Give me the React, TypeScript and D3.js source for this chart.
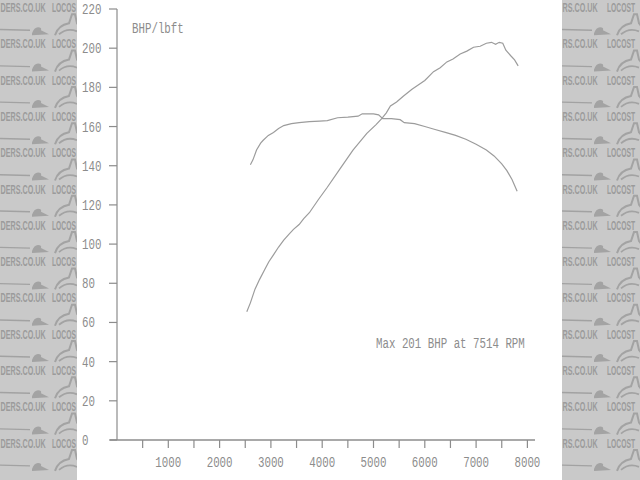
import React from "react";
import * as d3 from "d3";

const torqueRpm = [2600, 2650, 2720, 2800, 2850, 2950, 3050, 3150, 3250, 3400, 3550, 3750, 3950, 4100, 4300, 4500, 4700, 4780, 5000, 5100, 5180, 5350, 5520, 5600, 5800, 6000, 6200, 6400, 6600, 6800, 7000, 7200, 7350, 7500, 7600, 7700, 7800];
const torqueVal = [140.5, 143, 148, 151.5, 153, 155.5, 157, 159, 160.5, 161.5, 162, 162.5, 162.8, 163, 164.5, 164.8, 165.3, 166.5, 166.5, 166, 164, 164, 163.5, 162, 161.5, 160, 158.5, 157, 155.5, 153.5, 151, 148, 145, 141, 137.5, 133, 127];

const powerRpm = [2530, 2600, 2690, 2780, 2880, 2960, 3050, 3150, 3250, 3350, 3440, 3550, 3640, 3750, 3920, 4100, 4350, 4600, 4870, 5050, 5160, 5250, 5330, 5450, 5580, 5750, 6000, 6170, 6300, 6430, 6550, 6690, 6820, 6950, 7080, 7200, 7300, 7380, 7450, 7520, 7580, 7680, 7750, 7820];
const powerVal = [65.5, 70, 77, 82, 87, 91, 94.5, 98.5, 102, 105, 107.5, 110, 113, 116, 122.5, 129, 138.5, 148, 156.5, 161, 164, 167, 170.5, 172.5, 175.5, 179, 183.5, 188, 190, 193, 194.5, 197, 198.5, 200.5, 201, 202.5, 203, 202, 203, 202.5, 199, 196, 194, 191];

const yTicks = [0, 20, 40, 60, 80, 100, 120, 140, 160, 180, 200, 220];
const xMinorTicks = [500, 1000, 1500, 2000, 2500, 3000, 3500, 4000, 4500, 5000, 5500, 6000, 6500, 7000, 7500, 8000];
const xLabels = [1000, 2000, 3000, 4000, 5000, 6000, 7000, 8000];
const unitsLabel = "BHP/lbft";
const maxLabel = "Max 201 BHP at 7514 RPM";
const leftWords = ["DERS.CO.UK", "LOCOS"];
const rightWords = ["RS.CO.UK", "LOCOST"];

const INK = "#8c8c8c";
const FONT = "'Liberation Mono', 'DejaVu Sans Mono', monospace";

function Mono({ x, y, text, anchor = "start", size = 15 }: { x: number; y: number; text: string; anchor?: string; size?: number }) {
  return (
    <text
      transform={`translate(${x},${y}) scale(0.72,1)`}
      fontFamily={FONT}
      fontSize={size}
      fill={INK}
      textAnchor={anchor as any}
      dominantBaseline="central"
    >
      {text}
    </text>
  );
}

function Watermark({ ox, words, x2 }: { ox: number; words: string[]; x2: number }) {
  const rows = d3.range(0, 14).map((i) => 7 + i * 36.3);
  const wm = { fontFamily: "'Liberation Sans', Arial, sans-serif", fontWeight: "bold" as const, fontSize: 12, fill: "#9b9b9b" };
  return (
    <g>
      {rows.map((ry, i) => (
        <g key={i}>
          <line x1={ox - 10} x2={ox + 30} y1={ry - 14} y2={ry - 13} stroke="#a2a2a2" strokeWidth={1.4} />
          <path d={`M${ox + 32},${ry - 10} q2,-6 6,-6 q4,0 3,3 l8,4 l-17,1 z`} fill="#a3a3a3" />
          <path d={`M${ox + 55},${ry - 8} q3,-10 14,-12 l3,-9 l3,0 l2,9 q4,4 5,12`} fill="none" stroke="#a3a3a3" strokeWidth={2} />
          <path d={`M${ox + 59},${ry - 9} q8,-7 18,-3`} fill="none" stroke="#a3a3a3" strokeWidth={1.8} />
          {ry < 470 && (
            <>
              <text transform={`translate(${ox + 0.5},${ry + 5}) scale(0.6,1)`} {...wm}>
                {words[0]}
              </text>
              <text transform={`translate(${ox + x2},${ry + 5}) scale(0.56,1)`} {...wm}>
                {words[1]}
              </text>
            </>
          )}
        </g>
      ))}
    </g>
  );
}

export default function App() {
  const W = 640;
  const H = 480;
  const x = d3.scaleLinear().domain([0, 8000]).range([117, 527.4]);
  const y = d3.scaleLinear().domain([0, 220]).range([440, 9]);

  const line = d3
    .line<[number, number]>()
    .x((d) => x(d[0]))
    .y((d) => y(d[1]));

  const torquePts = torqueRpm.map((r, i) => [r, torqueVal[i]] as [number, number]);
  const powerPts = powerRpm.map((r, i) => [r, powerVal[i]] as [number, number]);

  return (
    <svg width={W} height={H} style={{ position: "fixed", left: 0, top: 0 }}>
      <defs>
        <clipPath id="leftStrip">
          <rect x={0} y={0} width={77} height={H} />
        </clipPath>
        <clipPath id="rightStrip">
          <rect x={562} y={0} width={78} height={H} />
        </clipPath>
      </defs>
      <rect x={0} y={0} width={W} height={H} fill="#fff" />
      <rect x={0} y={0} width={77} height={H} fill="#c9c9c9" />
      <rect x={562} y={0} width={78} height={H} fill="#c9c9c9" />
      <g clipPath="url(#leftStrip)">
        <Watermark ox={0} words={leftWords} x2={52} />
      </g>
      <g clipPath="url(#rightStrip)">
        <Watermark ox={562} words={rightWords} x2={45} />
      </g>

      {/* axes */}
      <line x1={x(0)} x2={x(0)} y1={y(220)} y2={y(0)} stroke={INK} strokeWidth={1.2} />
      <line x1={110} x2={535} y1={y(0)} y2={y(0)} stroke={INK} strokeWidth={1.3} />
      {yTicks.map((t) => (
        <g key={t}>
          <line x1={x(0) - 8} x2={x(0)} y1={y(t)} y2={y(t)} stroke={INK} strokeWidth={1.2} />
          <Mono x={82} y={y(t) + 1} text={String(t)} />
        </g>
      ))}
      {xMinorTicks.map((t) => (
        <line key={t} x1={x(t)} x2={x(t)} y1={y(0)} y2={y(0) + 8} stroke={INK} strokeWidth={1.2} />
      ))}
      {xLabels.map((t) => (
        <Mono key={t} x={x(t)} y={463} text={String(t)} anchor="middle" />
      ))}

      <Mono x={132} y={29} text={unitsLabel} />
      <Mono x={376} y={344} text={maxLabel} />

      <path d={line(torquePts) || ""} fill="none" stroke="#9c9c9c" strokeWidth={1.2} />
      <path d={line(powerPts) || ""} fill="none" stroke="#9c9c9c" strokeWidth={1.2} />
    </svg>
  );
}
